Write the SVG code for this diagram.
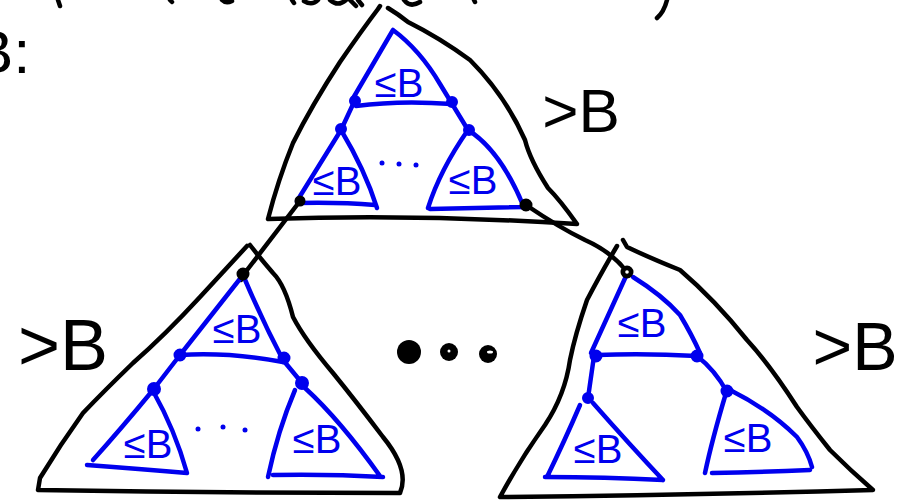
<svg xmlns="http://www.w3.org/2000/svg" width="912" height="504" viewBox="0 0 912 504">
<style>
.blk{fill:none;stroke:#000;stroke-width:4.5;stroke-linecap:round;stroke-linejoin:round}
.blu{fill:none;stroke:#0000ee;stroke-width:4.5;stroke-linecap:round;stroke-linejoin:round}
.bn{fill:#0000ee;stroke:#0000ee;stroke-width:2}
.kn{fill:#000;stroke:#000;stroke-width:2}
.le{font-family:"Liberation Sans",Arial,sans-serif;font-size:40px;fill:#0000ee;text-anchor:middle}
.gt{font-family:"Liberation Sans",Arial,sans-serif;fill:#000;text-anchor:middle}
</style>
<rect width="912" height="504" fill="#fff"/>
<!-- cut-off handwriting at top -->
<g id="header">
<g class="blk">
<path d="M58,0 L60,6"/><path d="M170,0 L172,2"/><path d="M222,0 Q226,4 232,1"/><path d="M292,0 L294,3"/><path d="M304,1 Q312,6 318,0"/><path d="M330,0 Q338,7 346,0 M350,0 L356,6 M358,0 L362,5"/><path d="M404,0 Q410,8 420,2"/><path d="M474,0 L475,2"/><path d="M667,0 Q664,12 657,18"/>
</g>
<text x="-28" y="73" class="gt" style="font-size:62px;text-anchor:start">B:</text>
</g>
<!-- top tree -->
<g id="tree-top">
<path class="blk" d="M378,9 Q362,30 340,62 Q312,105 293,143 Q278,180 268,219 Q420,214 577,224 Q560,200 548,188 Q530,160 525,140 Q505,95 470,60 Q440,38 408,22 M378,9 L380,6 M388,8 Q398,14 408,22"/>
<path class="blu" d="M393,30 L352,100 M393,30 Q420,50 440,84 L468,130 M356,106 Q400,100 452,104"/>
<path class="blu" d="M355,100 L341,130 M341,130 L297,201 M341,130 Q365,170 377,208 M297,203 Q340,202 375,205"/>
<path class="blu" d="M468,130 Q440,170 428,208 M468,130 Q500,150 523,205 M430,209 Q480,208 524,207"/>
<circle class="bn" cx="355" cy="101" r="5"/>
<circle class="bn" cx="452" cy="102" r="5"/>
<circle class="bn" cx="341" cy="129" r="5"/>
<circle class="bn" cx="469" cy="130" r="5"/>
<circle class="kn" cx="300" cy="201" r="4.5"/>
<circle class="kn" cx="526" cy="205" r="5.5"/>
<text class="le" x="399" y="97">≤B</text>
<text class="le" x="337" y="195">≤B</text>
<text class="le" x="473" y="194">≤B</text>
<circle cx="382" cy="163" r="2.5" fill="#0000ee"/><circle cx="399" cy="164" r="2.5" fill="#0000ee"/><circle cx="416" cy="165" r="2.5" fill="#0000ee"/>
<text class="gt" x="581" y="132" style="font-size:62px">&gt;B</text>
</g>
<!-- connectors -->
<g id="connectors">
<path class="blk" d="M300,201 Q270,240 244,274 L241,280"/>
<path class="blk" d="M526,205 Q560,228 585,240 Q612,252 627,272"/>
</g>
<!-- bottom-left tree -->
<g id="tree-left">
<path class="blk" d="M247,246 Q225,270 200,297 Q165,335 133,363 Q105,390 83,413 Q60,445 40,478 L38,490 Q220,493 400,493 Q410,470 383,437 Q355,400 333,373 Q305,340 293,317 Q285,285 273,273 Q260,258 250,245"/>
<path class="blu" d="M243,275 L180,355 M243,275 Q262,320 283,360 M180,355 Q230,352 283,362"/>
<path class="blu" d="M180,355 L153,390 M153,390 Q120,430 93,460 M153,391 Q175,430 187,473 M87,465 Q140,469 187,473"/>
<path class="blu" d="M283,360 L302,383 M295,390 Q278,430 268,477 M305,388 Q340,420 380,476 M273,475 Q330,474 383,477"/>
<circle class="kn" cx="243" cy="274" r="5.5"/>
<circle class="bn" cx="180" cy="355" r="5.5"/>
<circle class="bn" cx="284" cy="358" r="5.5"/>
<circle class="bn" cx="154" cy="389" r="6"/>
<circle class="bn" cx="302" cy="383" r="6"/>
<text class="le" x="237" y="343">≤B</text>
<text class="le" x="148" y="458">≤B</text>
<text class="le" x="317" y="453">≤B</text>
<circle cx="198" cy="429" r="2.5" fill="#0000ee"/><circle cx="223" cy="427" r="2.5" fill="#0000ee"/><circle cx="245" cy="430" r="2.5" fill="#0000ee"/>
<text class="gt" x="63" y="370" style="font-size:72px">&gt;B</text>
</g>
<!-- middle ellipsis -->
<g id="ellipsis">
<circle cx="409" cy="352" r="12" fill="#000"/>
<circle cx="449" cy="352" r="9" fill="#000"/><circle cx="449" cy="351" r="1.5" fill="#fff"/>
<circle cx="488" cy="354" r="9" fill="#000"/><ellipse cx="490" cy="352" rx="3" ry="1.5" fill="#fff"/>
</g>
<!-- bottom-right tree -->
<g id="tree-right">
<path class="blk" d="M617,246 Q600,275 587,300 Q575,335 570,360 Q565,395 545,425 Q520,460 500,497 Q690,495 873,490 Q850,470 830,450 Q810,425 797,407 Q770,365 747,340 Q715,300 680,270 Q650,258 627,247 L623,240"/>
<path class="blu" d="M627,274 L591,353 M633,277 Q662,295 680,315 Q692,335 700,353 M597,355 Q645,353 697,356"/>
<path class="blu" d="M594,356 L588,398 M580,405 Q565,440 547,477 M593,403 Q630,445 663,480 M545,477 Q605,477 663,480"/>
<path class="blu" d="M697,356 Q715,370 727,392 M726,393 Q712,440 705,473 M730,390 Q770,410 797,437 Q808,452 812,467 M712,473 Q760,472 810,470"/>
<circle class="kn" cx="627" cy="272" r="5.5"/><circle cx="627" cy="272" r="1.8" fill="#fff"/>
<circle class="bn" cx="596" cy="356" r="5.5"/>
<circle class="bn" cx="697" cy="356" r="5.5"/>
<circle class="bn" cx="588" cy="398" r="5"/>
<circle class="bn" cx="727" cy="391" r="5.5"/>
<text class="le" x="642" y="337">≤B</text>
<text class="le" x="598" y="463">≤B</text>
<text class="le" x="748" y="452">≤B</text>
<text class="gt" x="855" y="370" style="font-size:68px">&gt;B</text>
</g>
</svg>
